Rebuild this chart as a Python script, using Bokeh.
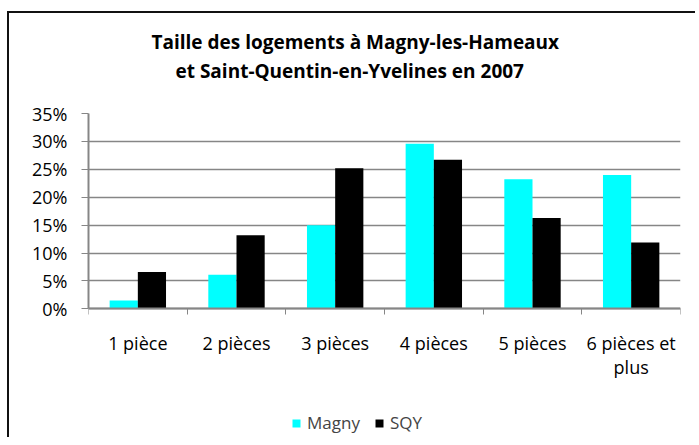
from bokeh.plotting import figure
from bokeh.models import (ColumnDataSource, Range1d, FixedTicker, NumeralTickFormatter,
                          Legend, LegendItem, Title)
from bokeh.transform import dodge
from bokeh.embed import file_html
from bokeh.resources import INLINE

categories = ["1 pièce", "2 pièces", "3 pièces", "4 pièces", "5 pièces", "6 pièces et\nplus"]
magny = [0.015, 0.061, 0.150, 0.296, 0.232, 0.240]
sqy = [0.066, 0.132, 0.252, 0.267, 0.163, 0.119]
y_ticks = [0.0, 0.05, 0.10, 0.15, 0.20, 0.25, 0.30, 0.35]
title_lines = ["Taille des logements à Magny-les-Hameaux",
               "et Saint-Quentin-en-Yvelines en 2007"]

FONT = "Open Sans"
GRID = "#868686"

xpos = [i + 0.5 for i in range(len(categories))]
src = ColumnDataSource(dict(x=xpos, cat=categories, magny=magny, sqy=sqy))

# frame extends below 0 so that the category labels and legend live inside it
p = figure(width=688, height=426, output_backend="svg", toolbar_location=None,
           x_range=Range1d(0, len(categories)), y_range=Range1d(-0.234, 0.35),
           min_border_left=79, min_border_right=17, min_border_top=100,
           min_border_bottom=0, title=None)
p.styles = {"border-style": "solid none none solid", "border-width": "2px",
            "border-color": "#111111", "margin-top": "11px", "margin-left": "7px"}

# spacer, then the two title lines (each centred by hand)
p.add_layout(Title(text=" ", text_font_size="1px", standoff=26), "above")
for txt, off in [(title_lines[1], 87), (title_lines[0], 63)]:
    p.add_layout(Title(text=txt, align="left", offset=off, standoff=1,
                       text_font=FONT, text_font_size="19px",
                       text_font_style="bold", text_color="#000000"), "above")

bw = 0.2857
r1 = p.vbar(x=dodge("x", -bw / 2, range=p.x_range), top="magny", width=bw, source=src,
            fill_color="#00FFFF", line_color=None)
r2 = p.vbar(x=dodge("x", bw / 2, range=p.x_range), top="sqy", width=bw, source=src,
            fill_color="#000000", line_color=None)

xa = p.xaxis[0]
xa.fixed_location = 0
xa.ticker = FixedTicker(ticks=xpos, minor_ticks=list(range(len(categories) + 1)))
xa.major_label_overrides = {x: c for x, c in zip(xpos, categories)}
xa.major_tick_out = 0
xa.major_tick_in = 0
xa.minor_tick_out = 6
xa.minor_tick_in = 0
xa.minor_tick_line_color = GRID
xa.axis_line_color = GRID
xa.axis_line_width = 2
xa.major_label_text_font = FONT
xa.major_label_text_font_size = "18px"
xa.major_label_text_line_height = 1.0
xa.major_label_text_color = "#000000"
xa.major_label_standoff = 16

ya = p.yaxis[0]
ya.bounds = (0, 0.35)
ya.ticker = FixedTicker(ticks=y_ticks)
ya.formatter = NumeralTickFormatter(format="0%")
ya.major_tick_out = 7
ya.major_tick_in = 0
ya.minor_tick_out = 0
ya.minor_tick_in = 0
ya.major_tick_line_color = GRID
ya.axis_line_color = GRID
ya.axis_line_width = 2
ya.major_label_text_font = FONT
ya.major_label_text_font_size = "18px"
ya.major_label_text_color = "#000000"
ya.major_label_standoff = 14

p.xgrid.grid_line_color = None
p.ygrid.grid_line_color = GRID
p.ygrid.grid_line_width = 1.5
p.outline_line_color = None

legend = Legend(items=[LegendItem(label="Magny", renderers=[r1]),
                       LegendItem(label="SQY", renderers=[r2])],
                orientation="horizontal", location=(203, 5),
                glyph_width=10, glyph_height=10, padding=0, margin=0, spacing=14,
                label_standoff=6, border_line_color=None, background_fill_alpha=0,
                label_text_font=FONT, label_text_font_size="17px",
                label_height=10)
p.add_layout(legend, "center")

open("out.html", "w").write(file_html(p, INLINE))
